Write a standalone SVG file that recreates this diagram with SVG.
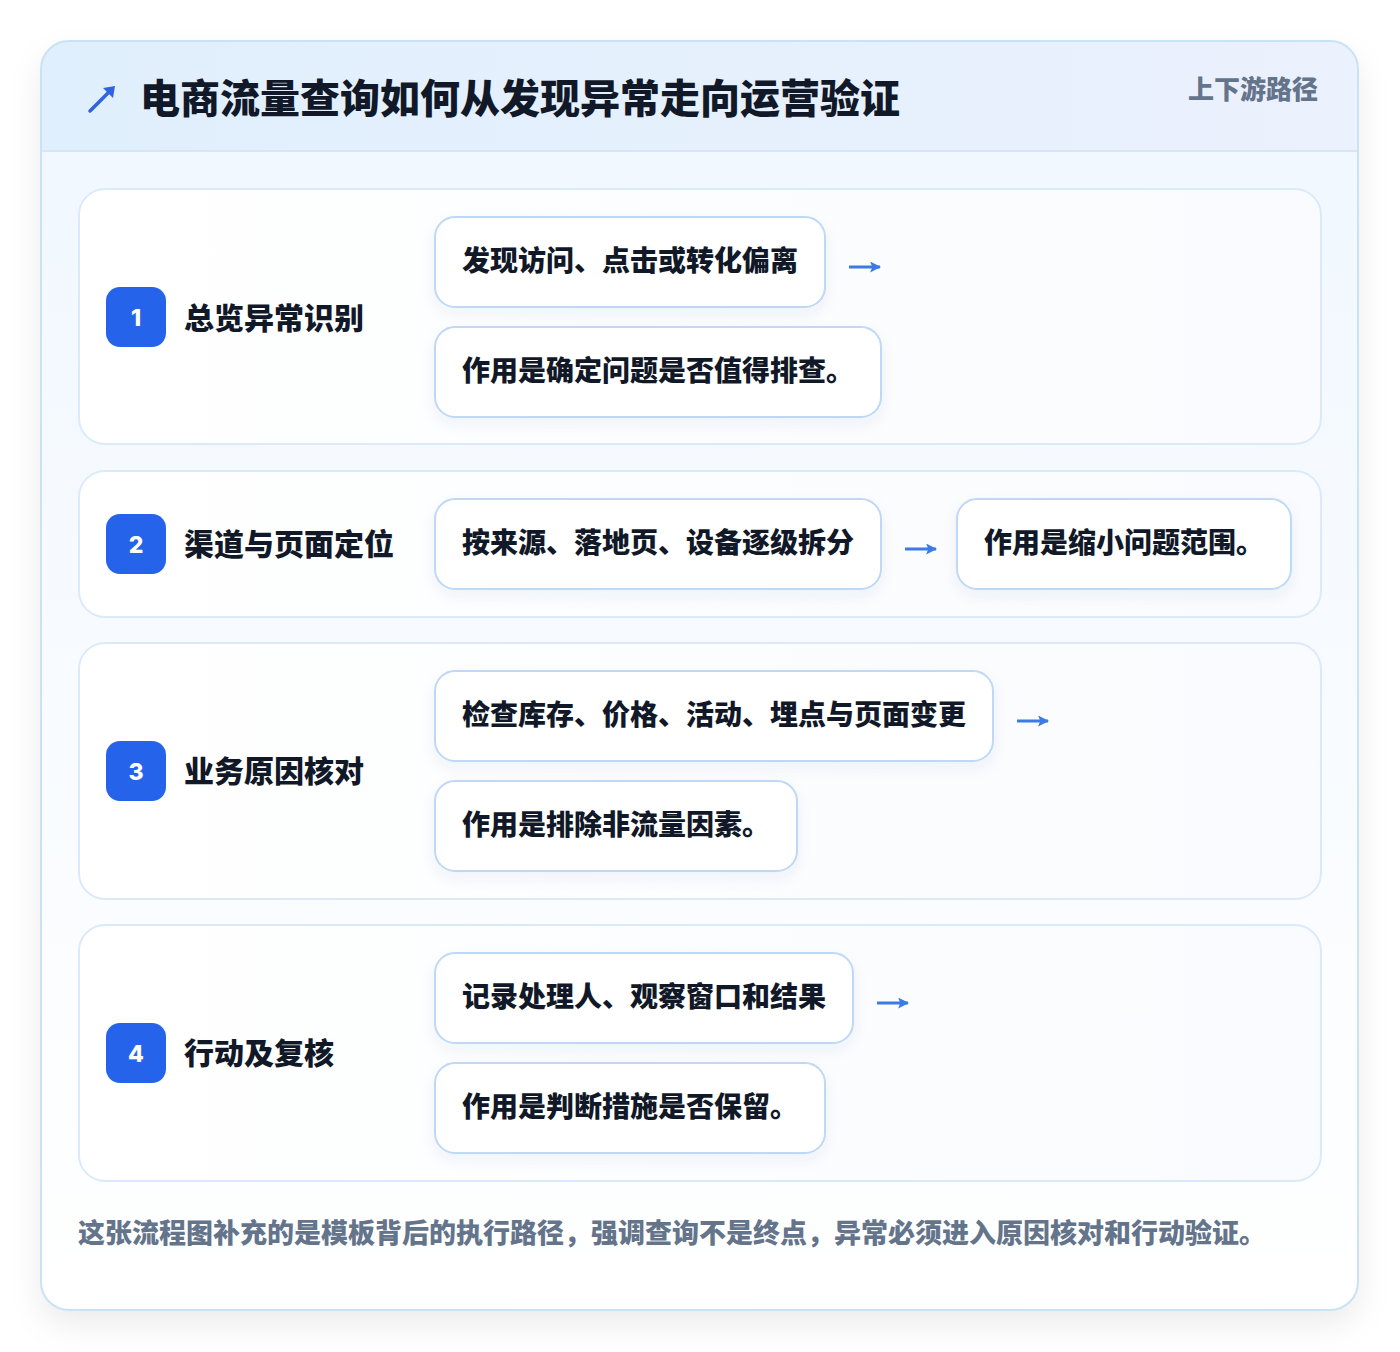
<svg xmlns="http://www.w3.org/2000/svg" width="1400" height="1352" viewBox="0 0 1400 1352">
<defs>
<linearGradient id="hdr" x1="0" y1="0" x2="1" y2="0"><stop offset="0" stop-color="#e0effd"/><stop offset="1" stop-color="#ebf1fd"/></linearGradient>
<linearGradient id="body" x1="0" y1="0" x2="0" y2="1"><stop offset="0" stop-color="#f0f7ff"/><stop offset="1" stop-color="#ffffff"/></linearGradient>
<linearGradient id="stepbg" x1="0" y1="0" x2="1" y2="0"><stop offset="0" stop-color="#ffffff"/><stop offset="1" stop-color="#f9fbfe"/></linearGradient>
<filter id="cardsh" x="-10%" y="-10%" width="120%" height="120%"><feDropShadow dx="0" dy="14" stdDeviation="16" flood-color="#0f172a" flood-opacity="0.08"/></filter>
<filter id="boxsh" x="-10%" y="-20%" width="120%" height="150%"><feDropShadow dx="0" dy="6" stdDeviation="7" flood-color="#1e3a8a" flood-opacity="0.06"/></filter>
<marker id="ah" viewBox="0 0 10 10" refX="9" refY="5" markerWidth="11" markerHeight="11" markerUnits="userSpaceOnUse" orient="auto"><path d="M0,0 L10,5 L0,10 L2,5 Z" fill="#3b7be3"/></marker>
<clipPath id="cardclip"><rect x="41" y="41" width="1317" height="1269" rx="28"/></clipPath>
</defs>
<style>
.t{font-family:"Noto Sans CJK SC","Noto Sans",sans-serif;font-weight:900}
.title{font-size:40px;fill:#111827}
.tag{font-size:26px;fill:#64748b}
.foot{font-size:27px;fill:#64748b}
.lbl{font-size:30px;fill:#111827}
.bt{font-size:28px;fill:#111827}
.num{font-family:Inter,"Liberation Sans",sans-serif;font-weight:800;font-size:23px;fill:#ffffff}
.step{fill:url(#stepbg);stroke:#dbeafb;stroke-width:2}
.box{fill:#ffffff;stroke:#bfd8f5;stroke-width:2;filter:url(#boxsh)}
.badge{fill:#2563eb}
.conn{stroke:#3b7be3;stroke-width:3;fill:none;marker-end:url(#ah)}
</style>
<rect width="1400" height="1352" fill="#ffffff"/>
<g id="card">
<rect x="41" y="41" width="1317" height="1269" rx="28" fill="url(#body)" filter="url(#cardsh)"/>
<g clip-path="url(#cardclip)">
<rect x="41" y="41" width="1317" height="110" fill="url(#hdr)"/>
<line x1="41" y1="151" x2="1358" y2="151" stroke="#d6e6f7" stroke-width="2"/>
</g>
<rect x="41" y="41" width="1317" height="1269" rx="28" fill="none" stroke="#c9e3f5" stroke-width="2"/>
</g>
<g id="header">
<path d="M90,111 L111,90" stroke="#2f63e0" stroke-width="3.5" stroke-linecap="round" fill="none"/>
<path d="M115,86 L113,98 L103,88 Z" fill="#2f63e0"/>
<text class="t title" x="140" y="96" dominant-baseline="central">电商流量查询如何从发现异常走向运营验证</text>
<text class="t tag" x="1318" y="87" text-anchor="end" dominant-baseline="central">上下游路径</text>
</g>
<g id="step1">
<rect class="step" x="79" y="189" width="1242" height="255" rx="26"/>
<rect class="badge" x="106" y="287" width="60" height="60" rx="14"/>
<text class="num" x="136" y="318" text-anchor="middle" dominant-baseline="central">1</text>
<text class="t lbl" x="184" y="316" dominant-baseline="central">总览异常识别</text>
</g>
<g id="step1-a"><rect class="box" x="435" y="217" width="390" height="90" rx="20"/><text class="t bt" x="462" y="259" dominant-baseline="central">发现访问、点击或转化偏离</text></g>
<g id="step1-b"><rect class="box" x="435" y="327" width="446" height="90" rx="20"/><text class="t bt" x="462" y="369" dominant-baseline="central">作用是确定问题是否值得排查。</text></g>
<g id="step2">
<rect class="step" x="79" y="471" width="1242" height="146" rx="26"/>
<rect class="badge" x="106" y="514" width="60" height="60" rx="14"/>
<text class="num" x="136" y="545" text-anchor="middle" dominant-baseline="central">2</text>
<text class="t lbl" x="184" y="542" dominant-baseline="central">渠道与页面定位</text>
</g>
<g id="step2-a"><rect class="box" x="435" y="499" width="446" height="90" rx="20"/><text class="t bt" x="462" y="541" dominant-baseline="central">按来源、落地页、设备逐级拆分</text></g>
<g id="step2-b"><rect class="box" x="957" y="499" width="334" height="90" rx="20"/><text class="t bt" x="984" y="541" dominant-baseline="central">作用是缩小问题范围。</text></g>
<g id="step3">
<rect class="step" x="79" y="643" width="1242" height="256" rx="26"/>
<rect class="badge" x="106" y="741" width="60" height="60" rx="14"/>
<text class="num" x="136" y="772" text-anchor="middle" dominant-baseline="central">3</text>
<text class="t lbl" x="184" y="769" dominant-baseline="central">业务原因核对</text>
</g>
<g id="step3-a"><rect class="box" x="435" y="671" width="558" height="90" rx="20"/><text class="t bt" x="462" y="713" dominant-baseline="central">检查库存、价格、活动、埋点与页面变更</text></g>
<g id="step3-b"><rect class="box" x="435" y="781" width="362" height="90" rx="20"/><text class="t bt" x="462" y="823" dominant-baseline="central">作用是排除非流量因素。</text></g>
<g id="step4">
<rect class="step" x="79" y="925" width="1242" height="256" rx="26"/>
<rect class="badge" x="106" y="1023" width="60" height="60" rx="14"/>
<text class="num" x="136" y="1054" text-anchor="middle" dominant-baseline="central">4</text>
<text class="t lbl" x="184" y="1051" dominant-baseline="central">行动及复核</text>
</g>
<g id="step4-a"><rect class="box" x="435" y="953" width="418" height="90" rx="20"/><text class="t bt" x="462" y="995" dominant-baseline="central">记录处理人、观察窗口和结果</text></g>
<g id="step4-b"><rect class="box" x="435" y="1063" width="390" height="90" rx="20"/><text class="t bt" x="462" y="1105" dominant-baseline="central">作用是判断措施是否保留。</text></g>
<g id="connectors">
<line class="conn" x1="849" y1="267" x2="880" y2="267"/>
<line class="conn" x1="905" y1="549" x2="936" y2="549"/>
<line class="conn" x1="1017" y1="721" x2="1048" y2="721"/>
<line class="conn" x1="877" y1="1003" x2="908" y2="1003"/>
</g>
<g id="footer">
<text class="t foot" x="78" y="1231" dominant-baseline="central">这张流程图补充的是模板背后的执行路径，强调查询不是终点，异常必须进入原因核对和行动验证。</text>
</g>
</svg>
